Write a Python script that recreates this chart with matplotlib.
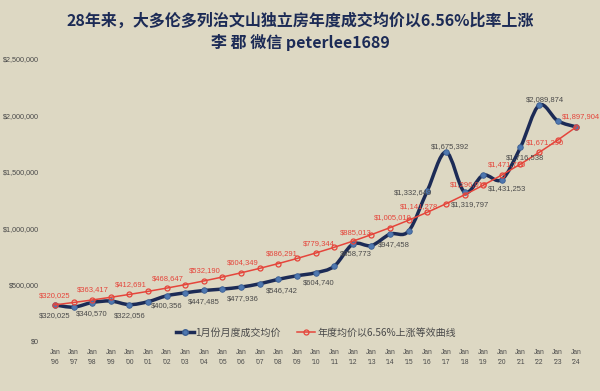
import numpy as np
import matplotlib.pyplot as plt
from matplotlib.path import Path
from matplotlib.patches import PathPatch

years = ["'96", "'97", "'98", "'99", "'00", "'01", "'02", "'03", "'04", "'05",
         "'06", "'07", "'08", "'09", "'10", "'11", "'12", "'13", "'14", "'15",
         "'16", "'17", "'18", "'19", "'20", "'21", "'22", "'23", "'24"]

# 1月份月度成交均价
monthly = [320025, 300000, 340570, 354000, 322056, 348000, 400356, 427000, 447485, 460000,
           477936, 507000, 546742, 578000, 604740, 663000, 858773, 846000, 947458, 975000,
           1332649, 1675392, 1319797, 1470000, 1431253, 1716538, 2089874, 1952000, 1897904]

# 年度均价以6.56%上涨等效曲线
trend = [320025, 341019, 363417, 387257, 412691, 439763, 468647, 499390, 532190, 567102,
         604349, 643994, 686291, 731312, 779344, 830469, 885013, 943070, 1005010, 1070939,
         1141278, 1216146, 1296010, 1381030, 1471710, 1568250, 1671290, 1781000, 1897904]

yticks = [0, 500000, 1000000, 1500000, 2000000, 2500000]

BG = '#DDD8C3'
NAVY = '#1C2B56'
RED = '#E5453B'
GREY = '#4a4a4a'
CJK = ['Noto Sans CJK SC', 'DejaVu Sans']
LAT = 'Liberation Sans'


def smooth_path(xs, ys):
    pts = np.column_stack([xs, ys]).astype(float)
    n = len(pts)
    verts = [pts[0]]
    codes = [Path.MOVETO]
    for i in range(n - 1):
        p0 = pts[i - 1] if i > 0 else pts[i]
        p1 = pts[i]
        p2 = pts[i + 1]
        p3 = pts[i + 2] if i + 2 < n else pts[i + 1]
        c1 = p1 + (p2 - p0) / 6.0
        c2 = p2 - (p3 - p1) / 6.0
        verts += [c1, c2, p2]
        codes += [Path.CURVE4] * 3
    return Path(verts, codes)


fig = plt.figure(figsize=(6, 3.91), dpi=100, facecolor=BG)
ax = fig.add_axes([0.076, 0.128, 0.9, 0.721])
ax.set_facecolor(BG)

x = np.arange(len(years))

# blue smoothed line
patch = PathPatch(smooth_path(x, monthly), facecolor='none', edgecolor=NAVY, lw=2.5, zorder=3)
ax.add_patch(patch)
ax.plot(x, monthly, ls='none', marker='o', ms=4, mfc='#4F78B0', mec='#3B5E92', mew=0.6, zorder=4)
ax.plot([], [], color=NAVY, lw=2.5, marker='o', ms=4, mfc='#4F78B0', mec='#3B5E92',
        label='1月份月度成交均价')

# red trend line
ax.plot(x, trend, color=RED, lw=1.1, marker='o', ms=3.6, mfc='none', mec=RED, mew=0.9,
        zorder=5, label='年度均价以6.56%上涨等效曲线')

# data labels (offsets in pixels)
blue_off = {0: (0, -11), 2: (0, -11), 4: (0, -11), 6: (0, -10), 8: (0, -11), 10: (2, -11),
            12: (3, -11), 14: (3, -10), 16: (3, -9), 18: (4, -10), 20: (-14, -2),
            21: (4, 5), 22: (5, -12), 24: (5, -9), 25: (5, -10), 26: (6, 6)}
red_off = {0: (0, 9), 2: (1, 10), 4: (1, 10), 6: (1, 10), 8: (1, 10), 10: (2, 10),
           12: (3, 10), 14: (3, 10), 16: (3, 9), 18: (3, 10), 20: (-8, 6),
           22: (4, 10), 24: (5, 10), 26: (6, 10), 28: (5, 10)}

for i, (dx, dy) in blue_off.items():
    ax.annotate('${:,}'.format(monthly[i]), (x[i], monthly[i]), xytext=(dx, dy),
                textcoords='offset pixels', ha='center', va='center',
                fontsize=5.5, family=LAT, color=GREY, zorder=6)
for i, (dx, dy) in red_off.items():
    ax.annotate('${:,}'.format(trend[i]), (x[i], trend[i]), xytext=(dx, dy),
                textcoords='offset pixels', ha='center', va='center',
                fontsize=5.5, family=LAT, color=RED, zorder=6)

ax.set_xlim(-0.5, len(years) - 0.5)
ax.set_ylim(0, 2500000)
ax.set_xticks(x)
ax.set_xticklabels(['Jan\n' + y for y in years], fontsize=4.8, family=LAT, color=GREY,
                   linespacing=1.5)
ax.set_yticks(yticks)
ax.set_yticklabels(['${:,}'.format(v) for v in yticks], fontsize=5.2, family=LAT, color=GREY)
ax.tick_params(axis='both', length=0)
ax.tick_params(axis='x', pad=6)
ax.tick_params(axis='y', pad=5)
for s in ax.spines.values():
    s.set_visible(False)

leg = ax.legend(loc='center', bbox_to_anchor=(0.5, 0.03), ncol=2, frameon=False,
                prop={'family': CJK, 'size': 7.2}, handlelength=1.8, columnspacing=1.6,
                handletextpad=0.2)
for t in leg.get_texts():
    t.set_color(GREY)

fig.text(0.5, 0.947, '28年来，大多伦多列治文山独立房年度成交均价以6.56%比率上涨',
         ha='center', va='center', fontsize=11.5, family=CJK, weight='bold', color=NAVY)
fig.text(0.5, 0.892, '李 郡 微信 peterlee1689',
         ha='center', va='center', fontsize=11.5, family=CJK, weight='bold', color=NAVY)

fig.savefig('out.png', dpi=100, facecolor=BG)
